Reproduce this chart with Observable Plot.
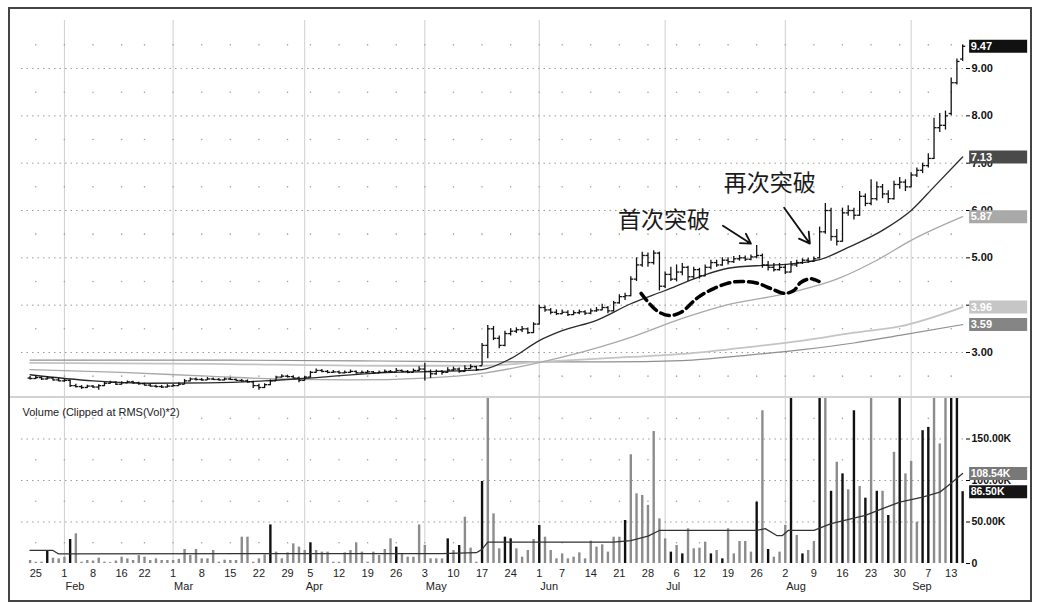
<!DOCTYPE html>
<html><head><meta charset="utf-8">
<script src="https://cdn.jsdelivr.net/npm/d3@7"></script>
<script src="https://cdn.jsdelivr.net/npm/@observablehq/plot@0.6"></script>
<style>
html,body{margin:0;padding:0;background:#fff;}
#wrap{position:relative;width:1038px;height:603px;overflow:hidden;font-family:"Liberation Sans",Arial,sans-serif;background:#fff;}
#price,#volume{position:absolute;left:0;}
#price{top:0;} #volume{top:397px;}
#sep{position:absolute;left:10px;top:396px;width:1020px;height:2px;background:#d2d2d2;}
#frame{position:absolute;left:8px;top:7px;width:1020px;height:591px;border:2px solid #444;pointer-events:none;}
</style></head>
<body><div id="wrap"><div id="price"></div><div id="volume"></div><div id="sep"></div><div id="frame"></div></div>
<script>
// trading-day index of the first bar (0 = Jan 25)
const startIndex = -1;
const open = [
2.46,2.45,2.47,2.44,2.46,2.42,2.40,2.41,2.30,2.28,
2.26,2.29,2.27,2.30,2.35,2.37,2.33,2.36,2.38,2.36,
2.34,2.31,2.29,2.28,2.27,2.29,2.30,2.33,2.40,2.44,
2.43,2.42,2.44,2.43,2.42,2.44,2.43,2.41,2.40,2.38,
2.30,2.26,2.32,2.40,2.48,2.50,2.49,2.46,2.41,2.48,
2.58,2.62,2.60,2.58,2.59,2.57,2.58,2.60,2.57,2.58,
2.59,2.57,2.58,2.60,2.59,2.62,2.60,2.58,2.62,2.65,
2.60,2.55,2.60,2.58,2.63,2.65,2.60,2.66,2.70,2.72,
3.15,3.50,3.30,3.15,3.40,3.45,3.48,3.50,3.42,3.60,
3.95,3.90,3.85,3.82,3.85,3.80,3.84,3.86,3.83,3.88,
3.90,3.95,3.88,4.05,4.18,4.20,4.55,4.85,5.05,4.90,
5.10,4.40,4.65,4.55,4.70,4.80,4.60,4.75,4.62,4.80,
4.90,4.85,4.95,4.92,4.98,5.00,4.97,5.02,5.05,4.85,
4.80,4.75,4.80,4.70,4.85,4.90,4.95,4.93,5.00,5.55,
6.00,5.45,5.35,5.95,6.00,5.90,6.30,6.15,6.25,6.50,
6.35,6.25,6.55,6.60,6.50,6.75,6.85,6.95,7.10,7.75,
7.80,8.05,8.70,9.20];
const high = [
2.49,2.50,2.48,2.49,2.47,2.45,2.44,2.42,2.33,2.30,
2.31,2.30,2.32,2.37,2.39,2.38,2.38,2.40,2.39,2.37,
2.35,2.33,2.31,2.30,2.32,2.33,2.36,2.43,2.46,2.46,
2.45,2.47,2.46,2.45,2.46,2.46,2.44,2.43,2.42,2.39,
2.33,2.34,2.42,2.50,2.53,2.52,2.51,2.48,2.50,2.60,
2.65,2.64,2.62,2.62,2.61,2.61,2.63,2.61,2.61,2.62,
2.60,2.61,2.63,2.62,2.66,2.63,2.62,2.65,2.70,2.77,
2.63,2.63,2.62,2.68,2.69,2.67,2.72,2.74,2.71,3.19,
3.57,3.55,3.35,3.45,3.50,3.52,3.55,3.52,3.63,4.00,
3.98,3.93,3.90,3.90,3.88,3.88,3.90,3.88,3.92,3.95,
4.02,3.97,4.08,4.22,4.25,4.60,5.00,5.12,5.10,5.15,
5.12,4.70,4.80,4.85,4.88,4.82,4.80,4.78,4.85,4.95,
4.95,5.00,5.00,5.03,5.05,5.04,5.06,5.26,5.08,4.92,
4.88,4.88,4.85,4.92,4.95,4.98,4.99,5.02,5.65,6.15,
6.05,5.60,6.05,6.10,6.05,6.40,6.35,6.65,6.60,6.55,
6.42,6.62,6.70,6.65,6.80,6.90,7.00,7.20,7.95,8.05,
8.10,8.80,9.20,9.50];
const low = [
2.42,2.43,2.41,2.42,2.40,2.38,2.37,2.26,2.25,2.22,
2.24,2.24,2.20,2.28,2.33,2.30,2.31,2.34,2.33,2.31,
2.29,2.27,2.25,2.24,2.25,2.27,2.29,2.32,2.38,2.40,
2.39,2.41,2.41,2.40,2.40,2.41,2.39,2.37,2.35,2.24,
2.20,2.24,2.30,2.39,2.46,2.46,2.44,2.36,2.40,2.47,
2.56,2.57,2.55,2.56,2.54,2.55,2.56,2.54,2.55,2.56,
2.54,2.55,2.56,2.56,2.58,2.57,2.55,2.57,2.60,2.40,
2.45,2.52,2.52,2.56,2.60,2.56,2.58,2.64,2.60,2.72,
2.87,3.25,3.08,3.12,3.35,3.40,3.42,3.38,3.40,3.58,
3.85,3.80,3.78,3.80,3.76,3.78,3.80,3.78,3.80,3.85,
3.88,3.82,3.86,4.02,4.10,4.18,4.50,4.80,4.80,4.85,
4.30,4.35,4.50,4.50,4.62,4.50,4.55,4.55,4.60,4.75,
4.80,4.82,4.85,4.88,4.93,4.92,4.94,4.98,4.78,4.72,
4.70,4.72,4.65,4.68,4.80,4.86,4.88,4.90,4.98,5.50,
5.35,5.25,5.33,5.88,5.80,5.88,6.08,6.10,6.20,6.25,
6.15,6.22,6.45,6.40,6.48,6.70,6.78,6.90,7.08,7.65,
7.70,8.00,8.65,9.15];
const close = [
2.45,2.47,2.44,2.46,2.42,2.40,2.41,2.30,2.28,2.26,
2.29,2.27,2.30,2.35,2.37,2.33,2.36,2.38,2.36,2.34,
2.31,2.29,2.28,2.27,2.29,2.30,2.33,2.40,2.44,2.43,
2.42,2.44,2.43,2.42,2.44,2.43,2.41,2.40,2.38,2.30,
2.26,2.32,2.40,2.48,2.50,2.49,2.46,2.41,2.48,2.58,
2.62,2.60,2.58,2.59,2.57,2.58,2.60,2.57,2.58,2.59,
2.57,2.58,2.60,2.59,2.62,2.60,2.58,2.62,2.65,2.60,
2.55,2.60,2.58,2.63,2.65,2.60,2.66,2.70,2.64,3.15,
3.50,3.30,3.15,3.40,3.45,3.48,3.50,3.42,3.60,3.95,
3.90,3.85,3.82,3.85,3.80,3.84,3.86,3.83,3.88,3.90,
3.95,3.88,4.05,4.18,4.20,4.55,4.85,5.05,4.90,5.10,
4.40,4.65,4.55,4.70,4.80,4.60,4.75,4.62,4.80,4.90,
4.85,4.95,4.92,4.98,5.00,4.97,5.02,5.05,4.85,4.80,
4.75,4.80,4.70,4.85,4.90,4.95,4.93,4.98,5.55,6.00,
5.45,5.35,5.95,6.00,5.90,6.30,6.15,6.25,6.50,6.35,
6.25,6.55,6.60,6.50,6.75,6.85,6.95,7.10,7.75,7.80,
8.00,8.70,9.15,9.47];
// volume in thousands of shares
const volume = [
3.6,1.5,1.6,15.7,6.4,5.6,7.6,28.9,35.7,1.6,
3.6,3.0,6.4,1.6,1.0,3.0,7.6,5.6,3.6,9.6,
7.6,3.6,5.6,3.6,3.6,3.6,5.0,16.9,9.6,16.9,
5.6,5.6,15.7,1.6,4.0,3.6,3.6,31.7,31.7,1.6,
5.6,10.4,46.5,13.7,5.6,12.8,23.7,19.7,15.7,24.9,
15.7,13.7,13.7,1.6,1.6,12.8,15.7,24.9,13.7,1.6,
13.7,9.6,16.9,29.7,19.7,11.6,7.6,7.6,46.5,21.7,
5.6,5.6,5.6,29.7,15.7,21.7,55.8,18.5,1.6,98.8,
240,59.8,17.7,31.7,29.7,17.7,7.6,15.7,28.9,45.8,
31.7,15.7,5.6,11.6,5.6,7.6,12.8,5.6,26.9,19.7,
22.5,13.7,31.7,31.7,51.8,131,84,82,70,159,
53.8,29.7,13.7,21.7,11.6,41.8,17.7,18.5,25.7,11.6,
15.7,5.6,41.8,11.6,26.5,26.5,13.7,73.9,184,16.9,
7.6,13.7,45.8,250,33.7,11.6,15.7,26.5,300,220,
87,122,108,88.8,184,92.8,78.7,230,87,87,
57.8,134,260,108,123,49.8,160,164,280,144,
230,320,270,86.5];
// days whose volume bar is drawn black (others grey)
const blackVolumeDays = [2,6,41,48,63,72,74,78,82,83,88,103,111,113,118,120,126,128,132,134,137,139,141,143,145,147,149,151,155,156,160,161,162];

// moving averages: [trading-day index, value]
const ma20 = [[-1,2.53],[10,2.40],[20,2.35],[30,2.36],[40,2.40],[50,2.48],[60,2.57],[70,2.60],[78,2.64],[83,2.87],[88,3.25],[92,3.46],[98,3.68],[104,4.03],[110,4.31],[116,4.60],[121,4.78],[127,4.84],[131,4.86],[137,4.96],[142,5.22],[148,5.58],[153,6.00],[157,6.50],[162,7.13]];
const ma50 = [[-1,2.64],[15,2.58],[30,2.50],[45,2.43],[55,2.42],[68,2.46],[78,2.56],[92,2.90],[104,3.32],[113,3.72],[120,3.98],[132,4.27],[140,4.55],[147,4.95],[153,5.37],[162,5.87]];
const ma150 = [[-1,2.78],[30,2.76],[60,2.72],[78,2.72],[88,2.80],[100,2.88],[113,2.97],[125,3.12],[134,3.25],[143,3.42],[151,3.55],[162,3.96]];
const ma200 = [[-1,2.84],[30,2.84],[60,2.82],[78,2.80],[100,2.80],[113,2.83],[125,2.95],[134,3.06],[143,3.20],[151,3.36],[162,3.59]];
const volMA = [[-1,15.7],[3,15.7],[4,11.5],[40,12],[71,12],[77,13],[78,17],[79,25.7],[101,25.7],[104,27.5],[107,33],[109,39.8],[126,39.8],[127.5,42],[129.5,33.7],[130.5,33.7],[131.5,39.8],[136,39.8],[139,48],[145,58],[148,66],[151,74],[155,80],[158,86],[159.5,94],[162,108.54]];

// axis ticks
const tickIndex = [0,5,10,15,19,24,29,34,39,44,48,53,58,63,68,73,78,83,88,92,97,102,107,112,116,121,126,131,136,141,146,151,156,160];
const tickLabel = ["25","1","8","16","22","1","8","15","22","29","5","12","19","26","3","10","17","24","1","7","14","21","28","6","12","19","26","2","9","16","23","30","7","13"];
const monthIndex = [5,24,47,68,88,110,131,153];
const monthLabel = ["Feb","Mar","Apr","May","Jun","Jul","Aug","Sep"];
const priceTicks = [3,4,5,6,7,8,9];
const volumeTicks = [0,50,100,150];

// annotations
const noteText = ["首次突破","再次突破"];
const noteX = [109.8,128.3];
const noteY = [5.79,6.57];
const arrowFrom = [[120.1,5.68],[130.8,6.06]];
const arrowTo = [[125.0,5.30],[135.3,5.30]];
const dashedPath = [[105.8,4.25],[107.2,4.04],[108.7,3.87],[110.7,3.78],[112.8,3.85],[115.7,4.16],[118.5,4.35],[121.5,4.48],[123.8,4.50],[126.2,4.46],[128.5,4.35],[130.8,4.25],[132.5,4.31],[133.7,4.48],[135.5,4.56],[136.9,4.50]];

// ---------- build ----------
const bars = close.map((c,k) => ({i:k+startIndex, o:open[k], h:high[k], l:low[k], c, v:volume[k], dark: blackVolumeDays.includes(k+startIndex)}));
const lastI = bars[bars.length-1].i;
const xDomain = [-2.5, 162.5];
const W = 1038, ML = 21, MR = 73;
const font = "Liberation Sans, Arial, sans-serif";
const P = d => d[0], V = d => d[1];

const priceTags = [
  {v: close[close.length-1], fill:"#111"},
  {v: ma20[ma20.length-1][1], fill:"#4a4a4a"},
  {v: ma50[ma50.length-1][1], fill:"#a9a9a9"},
  {v: ma150[ma150.length-1][1], fill:"#c6c6c6"},
  {v: ma200[ma200.length-1][1], fill:"#858585"}
];
const volTags = [
  {v: volMA[volMA.length-1][1], fill:"#787878"},
  {v: volume[volume.length-1], fill:"#151515"}
];
const tagBox = {draw(ctx){ ctx.rect(6.5, -6.5, 58, 13); }};

const halfPrices = d3.range(2.5, 10, 1);
const priceDots = d3.cross(tickIndex, halfPrices);
const volDots = d3.cross(tickIndex, [25,75,125,175]);
const notes = noteText.map((t,k) => ({t, x:noteX[k], y:noteY[k]}));
const arrows = arrowFrom.map((a,k) => ({x1:a[0], y1:a[1], x2:arrowTo[k][0], y2:arrowTo[k][1]}));

const price = Plot.plot({
  width: W, height: 397, marginTop: 20, marginBottom: 1, marginLeft: ML, marginRight: MR,
  style: {fontFamily: font, background: "transparent", overflow: "visible"},
  x: {domain: xDomain, axis: null},
  y: {domain: [2.07, 10.015]},
  color: {type: "identity"},
  marks: [
    Plot.ruleX(monthIndex, {stroke: "#cfcfcf", strokeWidth: 1}),
    Plot.ruleY(priceTicks, {stroke: "#9a9a9a", strokeDasharray: "1.5,4"}),
    Plot.dot(priceDots, {x: P, y: V, r: 0.8, fill: "#a0a0a0", stroke: null}),
    Plot.line(ma200, {x: P, y: V, stroke: "#8f8f8f", strokeWidth: 1.2, curve: "monotone-x"}),
    Plot.line(ma150, {x: P, y: V, stroke: "#c4c4c4", strokeWidth: 1.8, curve: "monotone-x"}),
    Plot.line(ma50, {x: P, y: V, stroke: "#a8a8a8", strokeWidth: 1.3, curve: "monotone-x"}),
    Plot.line(ma20, {x: P, y: V, stroke: "#2a2a2a", strokeWidth: 1.3, curve: "monotone-x"}),
    Plot.ruleX(bars, {x: "i", y1: "l", y2: "h", stroke: "#111", strokeWidth: 1.3}),
    Plot.link(bars, {x1: d => d.i - 0.45, x2: "i", y1: "o", y2: "o", stroke: "#111", strokeWidth: 1.3}),
    Plot.link(bars, {x1: "i", x2: d => d.i + 0.45, y1: "c", y2: "c", stroke: "#111", strokeWidth: 1.3}),
    Plot.line(dashedPath, {x: P, y: V, stroke: "#000", strokeWidth: 3.5, strokeDasharray: "9,5", curve: "catmull-rom"}),
    Plot.arrow(arrows, {x1: "x1", y1: "y1", x2: "x2", y2: "y2", stroke: "#111", strokeWidth: 1.8, headLength: 10}),
    Plot.text(notes, {x: "x", y: "y", text: "t", fontSize: 23, fill: "#1a1a1a", fontFamily: "Noto Sans CJK SC"}),
    Plot.axisY({anchor: "right", label: null, ticks: priceTicks, tickFormat: d => d.toFixed(2), tickSize: 4, tickPadding: 2, fontSize: 11, fontWeight: "bold", fill: "#111"}),
    Plot.dot(priceTags, {x: () => lastI, y: "v", symbol: tagBox, fill: "fill", stroke: null, r: 4}),
    Plot.text(priceTags, {x: () => lastI, y: "v", text: d => d.v.toFixed(2), dx: 8, textAnchor: "start", fill: "white", fontWeight: "bold", fontSize: 11})
  ]
});
document.getElementById("price").appendChild(price);

const vol = Plot.plot({
  width: W, height: 206, marginTop: 1, marginBottom: 40, marginLeft: ML, marginRight: MR,
  style: {fontFamily: font, background: "transparent", overflow: "visible"},
  x: {domain: xDomain},
  y: {domain: [0, 198.8]},
  color: {type: "identity"},
  marks: [
    Plot.ruleX(monthIndex, {stroke: "#cfcfcf", strokeWidth: 1}),
    Plot.ruleY([50,100,150], {stroke: "#9a9a9a", strokeDasharray: "1.5,4"}),
    Plot.dot(volDots, {x: P, y: V, r: 0.8, fill: "#a0a0a0", stroke: null}),
    Plot.ruleX(bars, {x: "i", y1: 0, y2: "v", stroke: d => d.dark ? "#111" : "#8c8c8c", strokeWidth: 2.4, clip: true}),
    Plot.line(volMA, {x: P, y: V, stroke: "#333", strokeWidth: 1.3}),
    Plot.text(["Volume (Clipped at RMS(Vol)*2)"], {frameAnchor: "top-left", dx: 1, dy: 10, textAnchor: "start", fontSize: 11, fill: "#222"}),
    Plot.axisY({anchor: "right", label: null, ticks: volumeTicks, tickFormat: d => d === 0 ? "0" : d.toFixed(2) + "K", tickSize: 4, tickPadding: 2, fontSize: 10.5, fontWeight: "bold", fill: "#111"}),
    Plot.axisX({ticks: tickIndex, tickFormat: d => tickLabel[tickIndex.indexOf(d)], tickSize: 0, tickPadding: 6, fontSize: 11, fill: "#222", label: null}),
    Plot.text(monthIndex, {x: d => d, frameAnchor: "bottom", dy: 26, dx: 1, text: (d,k) => monthLabel[k], textAnchor: "start", fontSize: 11, fill: "#222"}),
    Plot.dot(volTags, {x: () => lastI, y: "v", symbol: tagBox, fill: "fill", stroke: null, r: 4}),
    Plot.text(volTags, {x: () => lastI, y: "v", text: d => d.v.toFixed(2) + "K", dx: 8, textAnchor: "start", fill: "white", fontWeight: "bold", fontSize: 10.5})
  ]
});
document.getElementById("volume").appendChild(vol);
</script>
</body></html>
